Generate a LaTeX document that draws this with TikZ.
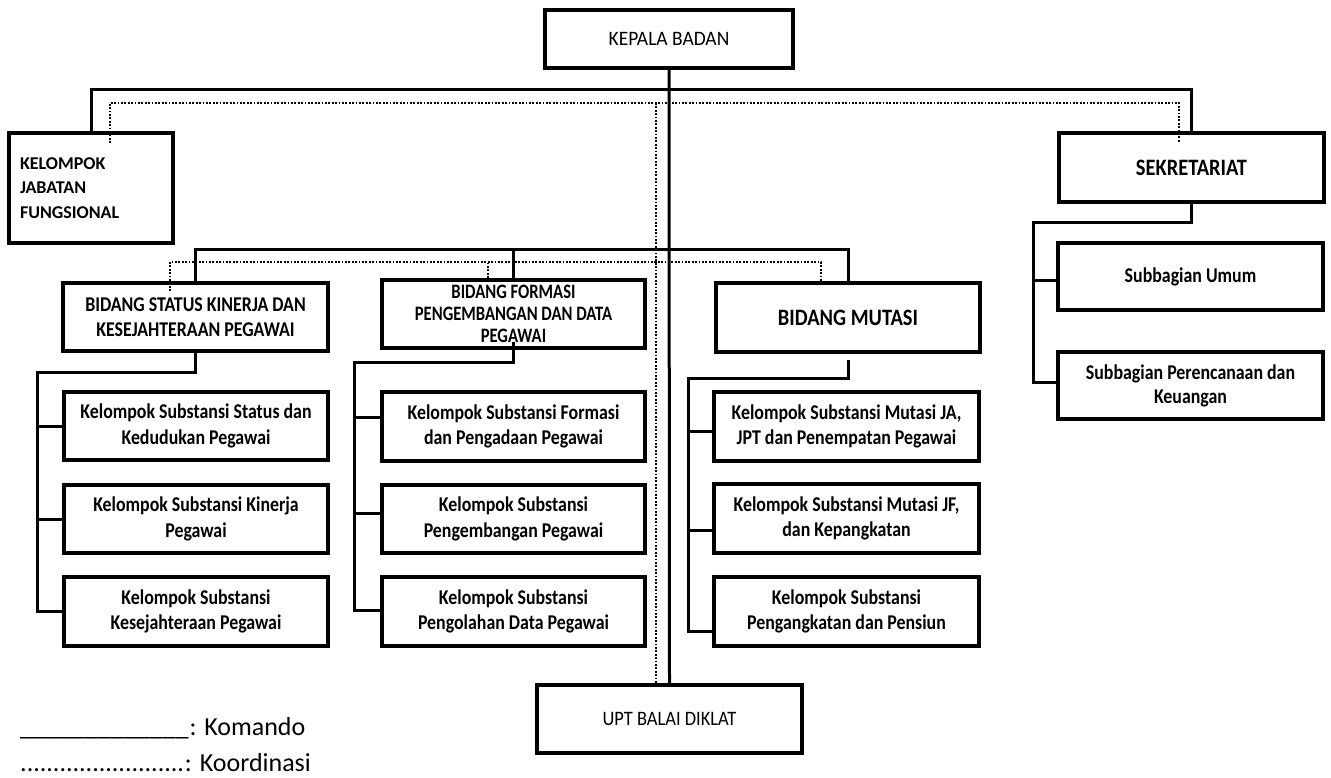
\documentclass[tikz,border=0pt]{standalone}
\usepackage{fontspec}
\setmainfont{Carlito}
\newfontfamily\cA[FakeStretch=0.85]{Carlito}
\newfontfamily\cB[FakeStretch=0.87]{Carlito}
\newfontfamily\cC[FakeStretch=0.95]{Carlito}
\newfontfamily\cD[FakeStretch=0.81]{Carlito}
\newfontfamily\cE[FakeStretch=0.9]{Carlito}
\begin{document}
\begin{tikzpicture}[x=1pt,y=-1pt,
  orgbox/.style={draw, line width=4pt, minimum width=265pt, minimum height=68.5pt,
    inner sep=0pt, align=center, font=\cA\bfseries\fontsize{21}{25.5}\selectfont},
  komando/.style={line width=3pt},
  koord/.style={line width=2.2pt, dash pattern={on 1.8pt off 1.6pt}},
  legendtext/.style={anchor=base west, inner sep=0pt, font=\fontsize{26}{30}\selectfont}]
\useasboundingbox (0,0) rectangle (1331,778);

% boxes
\node[orgbox, minimum width=248pt, minimum height=58pt, font=\cC\fontsize{20.5}{24}\selectfont] (kepala) at (669,39) {KEPALA BADAN};
\node[orgbox, minimum width=164pt, minimum height=110pt, text width=142pt, inner xsep=11pt, align=left, font=\bfseries\fontsize{18}{24.5}\selectfont] (kjf) at (91,188) {KELOMPOK\\JABATAN\\FUNGSIONAL};
\node[orgbox, minimum height=69pt, font=\cB\bfseries\fontsize{23.5}{28}\selectfont] (sek) at (1191.5,167.5) {SEKRETARIAT};
\node[orgbox, minimum height=67pt] (sumum) at (1190.5,276.5) {Subbagian Umum};
\node[orgbox, minimum height=67pt, font=\cA\bfseries\fontsize{21}{24}\selectfont] (srenc) at (1190.5,385.5) {Subbagian Perencanaan dan\\Keuangan};

\node[orgbox, minimum height=68pt] (bstatus) at (195.5,317) {BIDANG STATUS KINERJA DAN\\KESEJAHTERAAN PEGAWAI};
\node[orgbox, minimum width=263pt, minimum height=68pt, font=\cD\bfseries\fontsize{20.5}{22}\selectfont] (bformasi) at (513.5,314) {BIDANG FORMASI\\PENGEMBANGAN DAN DATA\\PEGAWAI};
\node[orgbox, minimum width=264pt, minimum height=69pt, font=\cB\bfseries\fontsize{23.5}{28}\selectfont] (bmutasi) at (848,317.5) {BIDANG MUTASI};

\node[orgbox, minimum width=264pt] (ss1) at (196,426) {Kelompok Substansi Status dan\\Kedudukan Pegawai};
\node[orgbox, minimum width=264pt] (ss2) at (196,519) {Kelompok Substansi Kinerja\\Pegawai};
\node[orgbox, minimum width=264pt] (ss3) at (196,611.5) {Kelompok Substansi\\Kesejahteraan Pegawai};

\node[orgbox, minimum width=263pt] (fs1) at (513.5,426.5) {Kelompok Substansi Formasi\\dan Pengadaan Pegawai};
\node[orgbox, minimum width=263pt] (fs2) at (513.5,519) {Kelompok Substansi\\Pengembangan Pegawai};
\node[orgbox, minimum width=263pt] (fs3) at (513.5,611.5) {Kelompok Substansi\\Pengolahan Data Pegawai};

\node[orgbox] (ms1) at (846.5,426.5) {Kelompok Substansi Mutasi JA,\\JPT dan Penempatan Pegawai};
\node[orgbox] (ms2) at (846.5,518.5) {Kelompok Substansi Mutasi JF,\\dan Kepangkatan};
\node[orgbox] (ms3) at (846.5,611.5) {Kelompok Substansi\\Pengangkatan dan Pensiun};

\node[orgbox, minimum height=68pt, font=\cE\fontsize{20.5}{24}\selectfont] (upt) at (669.5,719) {UPT BALAI DIKLAT};

% coordination (dotted)
\coordinate (dbus1) at (656,103);
\coordinate (dbus2) at (656,262);
\draw[koord] ([xshift=19pt,yshift=-12pt]kjf.north) |- (dbus1) -| ([xshift=-12.5pt,yshift=-12pt]sek.north);
\draw[koord] (dbus1) -- (dbus1 |- upt.north);
\draw[koord] ([xshift=-25.5pt,yshift=-10pt]bstatus.north) |- (dbus2) -| ([xshift=-27pt]bmutasi.north);
\coordinate (fdot) at ([xshift=-25.5pt]bformasi.north);
\draw[koord] (fdot) -- (fdot |- dbus2);

% command (solid)
\coordinate (bus1) at (669,90);
\coordinate (bus2) at (669,250);
\draw[komando] (kepala.south) -- (upt.north);
\draw[komando] (kjf.north) |- (bus1) -| (sek.north);
\draw[komando] (bstatus.north) |- (bus2) -| (bmutasi.north);
\draw[komando] (bformasi.north) -- (bformasi.north |- bus2);

% status tree
\coordinate (st) at (37,372);
\draw[komando] (bstatus.south) |- (st) |- (ss3.west);
\draw[komando] (st |- ss1.west) -- (ss1.west);
\draw[komando] (st |- ss2.west) -- (ss2.west);

% formasi tree
\coordinate (ft) at (354,362);
\coordinate (fb1) at ([yshift=9.5pt]fs1.west);
\coordinate (fb2) at ([yshift=6pt]fs2.west);
\coordinate (fb3) at ([yshift=1.5pt]fs3.west);
\draw[komando] ([yshift=8pt]bformasi.south) |- (ft) |- (fb3);
\draw[komando] (ft |- fb1) -- (fb1);
\draw[komando] (ft |- fb2) -- (fb2);

% mutasi tree
\coordinate (mt) at (688,378);
\coordinate (mb1) at ([yshift=-4.5pt]ms1.west);
\coordinate (mb2) at ([yshift=-11.5pt]ms2.west);
\coordinate (mb3) at ([yshift=-19.5pt]ms3.west);
\draw[komando] ([yshift=-6pt]bmutasi.south) |- (mt) |- (mb3);
\draw[komando] (mt |- mb1) -- (mb1);
\draw[komando] (mt |- mb2) -- (mb2);

% sekretariat tree
\coordinate (sk) at (1033,223);
\coordinate (sb1) at ([yshift=-3.5pt]sumum.west);
\coordinate (sb2) at ([yshift=3.5pt]srenc.west);
\draw[komando] (sek.south) |- (sk) |- (sb2);
\draw[komando] (sk |- sb1) -- (sb1);

% legend
\node[legendtext] (leg1) at (20,735) {\_\_\_\_\_\_\_\_\_\_\_\_\_\hspace{1pt}: Komando};
\node[legendtext] (leg2) at (20,771) {.........................\hspace{1pt}: Koordinasi};
\end{tikzpicture}
\end{document}
